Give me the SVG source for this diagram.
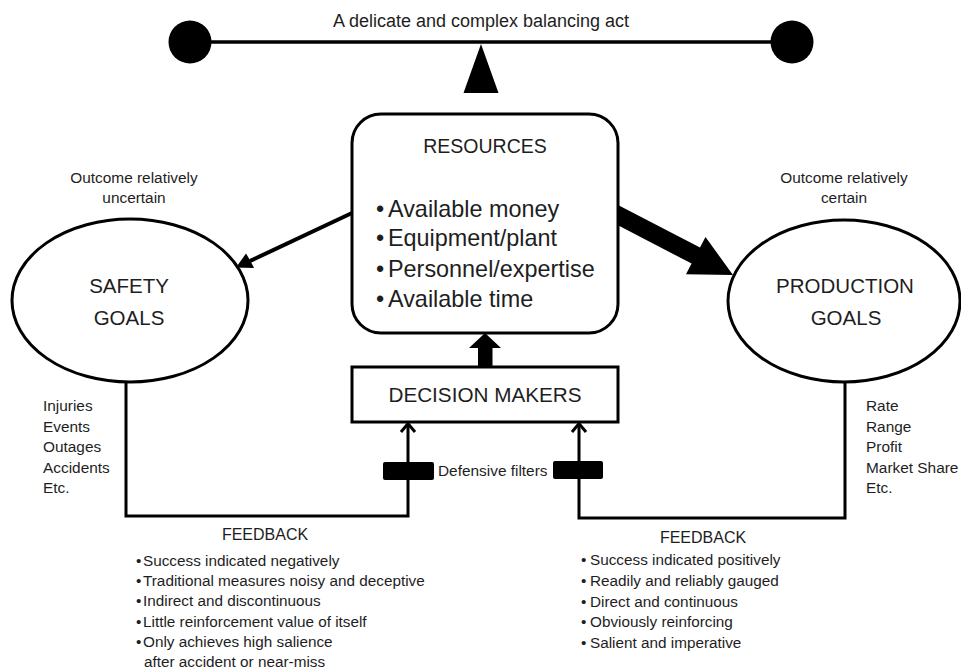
<svg xmlns="http://www.w3.org/2000/svg" width="961" height="672" viewBox="0 0 961 672">
<style>
text{font-family:"Liberation Sans",Arial,sans-serif;fill:#1e1e1e}
.ln{fill:none;stroke:#000;stroke-width:3}
.sh{fill:#fff;stroke:#000;stroke-width:3}
.blk{fill:#000;stroke:none}
.s{font-size:15.3px}
.lab{font-size:15.4px}
.big{font-size:20.5px}
.res{font-size:23.4px}
.mid{text-anchor:middle}
</style>
<rect width="961" height="672" fill="#fff"/>

<g id="balance">
<line x1="190" y1="42" x2="792" y2="42" stroke="#000" stroke-width="3.5"/>
<circle cx="190" cy="42" r="21.5" class="blk"/>
<circle cx="792" cy="42" r="21.5" class="blk"/>
<polygon points="481,44 498.5,93 463.5,93" class="blk"/>
<text x="481" y="27" font-size="18" class="mid">A delicate and complex balancing act</text>
</g>

<g id="connectors">
<!-- thin arrow resources -> safety -->
<line x1="352" y1="213" x2="250" y2="261" stroke="#000" stroke-width="4"/>
<polygon points="236,267.5 246,253.5 250.5,261 254,268" class="blk"/>
<!-- thick arrow resources -> production -->
<polygon points="618,205 700,247.6 705.5,237 733,275 686,274.2 691.6,263.6 609.8,221" class="blk"/>
<!-- decision makers -> resources -->
<polygon points="485,333 501,348 492.5,348 492.5,368 478,368 478,348 469,348" class="blk"/>
<!-- feedback loops -->
<polyline points="126,382 126,516 408,516 408,424" class="ln"/>
<polyline points="401,432 408,423.5 415,432" class="ln"/>
<polyline points="845,382 845,518 579,518 579,424" class="ln"/>
<polyline points="572,432 579,423.5 586,432" class="ln"/>
<rect x="383" y="462" width="51" height="18" rx="2" class="blk"/>
<rect x="553" y="461" width="50" height="18" rx="2" class="blk"/>
<text x="438" y="476" class="lab" font-size="15.6px">Defensive filters</text>
</g>

<g id="resources">
<rect x="352" y="114" width="266" height="219" rx="29" class="sh"/>
<text x="485" y="153" font-size="19.5" class="mid">RESOURCES</text>
<text class="res"><tspan x="376" y="217">•</tspan><tspan x="388">Available money</tspan></text>
<text class="res"><tspan x="376" y="246">•</tspan><tspan x="388">Equipment/plant</tspan></text>
<text class="res"><tspan x="376" y="277">•</tspan><tspan x="388">Personnel/expertise</tspan></text>
<text class="res"><tspan x="376" y="307">•</tspan><tspan x="388">Available time</tspan></text>
</g>

<g id="safety-goals">
<ellipse cx="130" cy="300.5" rx="118" ry="81.5" class="sh"/>
<text x="129" y="293" class="big mid">SAFETY</text>
<text x="129" y="325" class="big mid">GOALS</text>
<text x="134" y="183" class="lab mid" font-size="15.8px">Outcome relatively</text>
<text x="134" y="203" class="lab mid" font-size="15.8px">uncertain</text>
<text x="43" y="411" class="lab">Injuries</text>
<text x="43" y="432" class="lab">Events</text>
<text x="43" y="452" class="lab">Outages</text>
<text x="43" y="473" class="lab">Accidents</text>
<text x="43" y="493" class="lab">Etc.</text>
</g>

<g id="production-goals">
<ellipse cx="844" cy="301" rx="116" ry="81" class="sh"/>
<text x="845" y="293" class="big mid">PRODUCTION</text>
<text x="846" y="325" class="big mid">GOALS</text>
<text x="844" y="183" class="lab mid" font-size="15.8px">Outcome relatively</text>
<text x="844" y="203" class="lab mid" font-size="15.8px">certain</text>
<text x="866" y="411" class="lab">Rate</text>
<text x="866" y="431.5" class="lab">Range</text>
<text x="866" y="452" class="lab">Profit</text>
<text x="866" y="472.5" class="lab">Market Share</text>
<text x="866" y="493" class="lab">Etc.</text>
</g>

<g id="decision-makers">
<rect x="352" y="367" width="266" height="55" class="sh"/>
<text x="485" y="402" font-size="20.7" class="mid">DECISION MAKERS</text>
</g>

<g id="safety-feedback">
<text x="265" y="540" font-size="16" class="mid">FEEDBACK</text>
<text class="s"><tspan x="136" y="566">•</tspan><tspan x="143">Success indicated negatively</tspan></text>
<text class="s"><tspan x="136" y="586">•</tspan><tspan x="143">Traditional measures noisy and deceptive</tspan></text>
<text class="s"><tspan x="136" y="606">•</tspan><tspan x="143">Indirect and discontinuous</tspan></text>
<text class="s"><tspan x="136" y="627">•</tspan><tspan x="143">Little reinforcement value of itself</tspan></text>
<text class="s"><tspan x="136" y="647">•</tspan><tspan x="143">Only achieves high salience</tspan></text>
<text class="s" x="144" y="667">after accident or near-miss</text>
</g>

<g id="production-feedback">
<text x="703" y="543" font-size="16" class="mid">FEEDBACK</text>
<text class="s"><tspan x="581" y="565">•</tspan><tspan x="590">Success indicated positively</tspan></text>
<text class="s"><tspan x="581" y="586">•</tspan><tspan x="590">Readily and reliably gauged</tspan></text>
<text class="s"><tspan x="581" y="607">•</tspan><tspan x="590">Direct and continuous</tspan></text>
<text class="s"><tspan x="581" y="627">•</tspan><tspan x="590">Obviously reinforcing</tspan></text>
<text class="s"><tspan x="581" y="648">•</tspan><tspan x="590">Salient and imperative</tspan></text>
</g>
</svg>
